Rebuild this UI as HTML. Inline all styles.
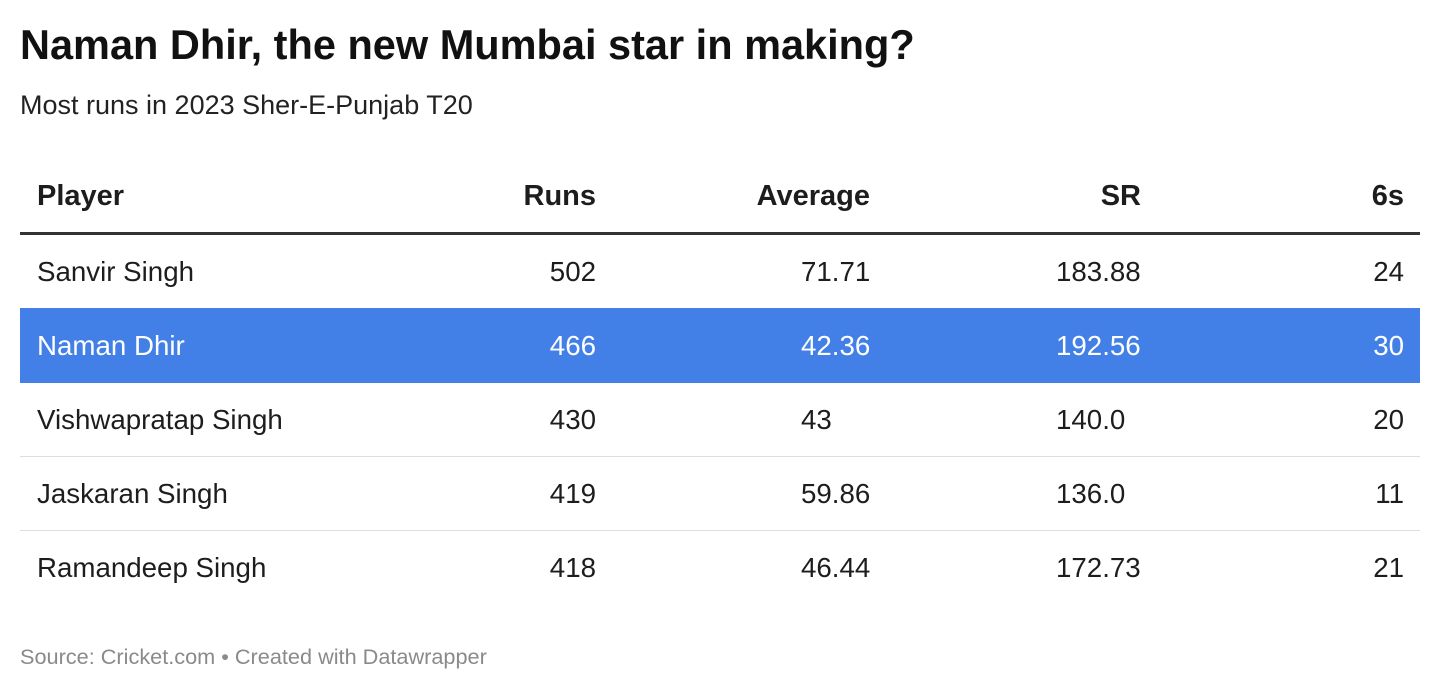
<!DOCTYPE html>
<html><head><meta charset="utf-8"><style>
body{margin:0;width:1440px;height:690px;background:#fff;font-family:"Liberation Sans",Arial,sans-serif;color:#1d1d1d;position:relative;overflow:hidden}
.a{position:absolute;white-space:nowrap}
.t{left:20px;top:21px;font-size:41.5px;font-weight:bold;color:#111}
.s{left:20px;top:90px;font-size:27px;color:#222}
.h{font-size:29px;font-weight:bold;top:180px;color:#1d1d1d}
.r{font-size:27.7px}
.f{left:20px;top:644px;font-size:21.7px;color:#8a8a8a}
.line{position:absolute;left:20px;width:1400px}
</style></head><body>
<div class="a t">Naman Dhir, the new Mumbai star in making?</div>
<div class="a s">Most runs in 2023 Sher-E-Punjab T20</div>

<div class="a h" style="left:37px">Player</div>
<div class="a h" style="right:844px">Runs</div>
<div class="a h" style="right:570px">Average</div>
<div class="a h" style="right:299px">SR</div>
<div class="a h" style="right:36px">6s</div>

<div class="line" style="top:232px;height:3px;background:#333"></div>
<div class="line" style="top:308px;height:75px;background:#4280e8"></div>
<div class="line" style="top:456px;height:1px;background:#ddd"></div>
<div class="line" style="top:530px;height:1px;background:#ddd"></div>

<div class="a r" style="left:37px;top:256px">Sanvir Singh</div>
<div class="a r" style="right:844px;top:256px">502</div>
<div class="a r" style="left:801px;top:256px">71.71</div>
<div class="a r" style="left:1056px;top:256px">183.88</div>
<div class="a r" style="right:36px;top:256px">24</div>

<div class="a r" style="left:37px;top:330px;color:#fff">Naman Dhir</div>
<div class="a r" style="right:844px;top:330px;color:#fff">466</div>
<div class="a r" style="left:801px;top:330px;color:#fff">42.36</div>
<div class="a r" style="left:1056px;top:330px;color:#fff">192.56</div>
<div class="a r" style="right:36px;top:330px;color:#fff">30</div>

<div class="a r" style="left:37px;top:404px">Vishwapratap Singh</div>
<div class="a r" style="right:844px;top:404px">430</div>
<div class="a r" style="left:801px;top:404px">43</div>
<div class="a r" style="left:1056px;top:404px">140.0</div>
<div class="a r" style="right:36px;top:404px">20</div>

<div class="a r" style="left:37px;top:478px">Jaskaran Singh</div>
<div class="a r" style="right:844px;top:478px">419</div>
<div class="a r" style="left:801px;top:478px">59.86</div>
<div class="a r" style="left:1056px;top:478px">136.0</div>
<div class="a r" style="right:36px;top:478px">11</div>

<div class="a r" style="left:37px;top:552px">Ramandeep Singh</div>
<div class="a r" style="right:844px;top:552px">418</div>
<div class="a r" style="left:801px;top:552px">46.44</div>
<div class="a r" style="left:1056px;top:552px">172.73</div>
<div class="a r" style="right:36px;top:552px">21</div>

<div class="a f">Source: Cricket.com • Created with Datawrapper</div>
</body></html>
